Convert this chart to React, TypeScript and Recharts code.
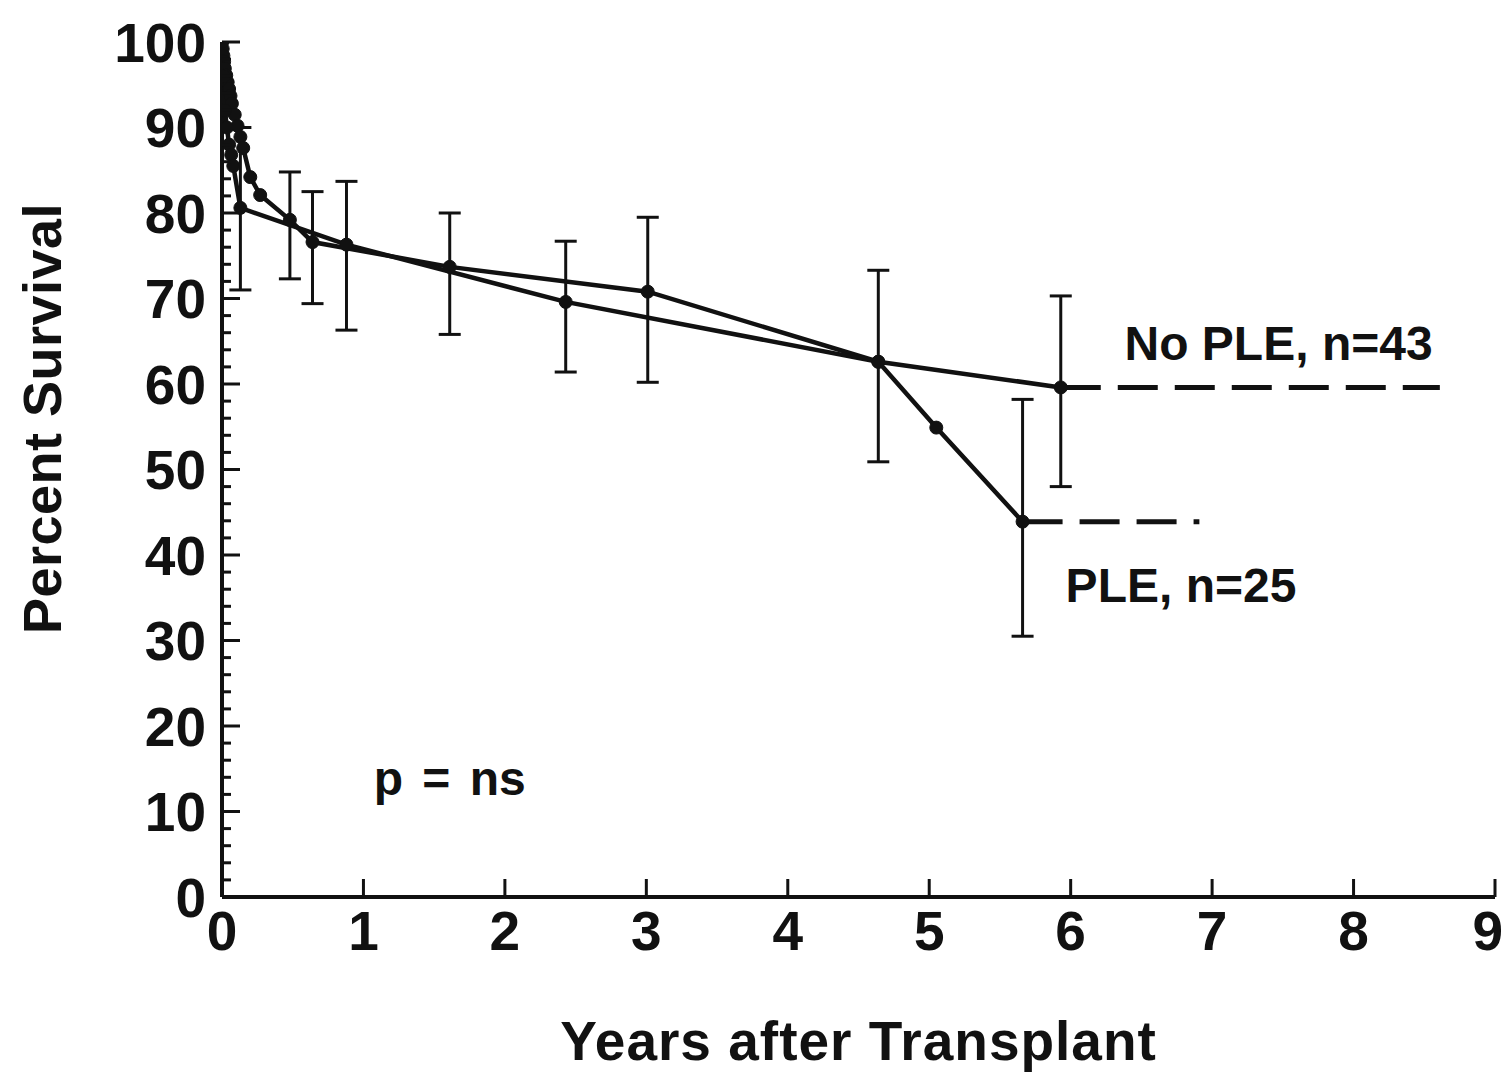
import React from 'react';
import { LineChart, Line, XAxis, YAxis, ErrorBar, ReferenceDot } from 'recharts';

// ---- Data ----
const noPleYears = [0, 0.005, 0.01, 0.015, 0.02, 0.03, 0.04, 0.05, 0.06, 0.07, 0.09, 0.11, 0.13, 0.15, 0.2, 0.27, 0.48, 0.64, 1.61, 3.01, 4.64, 5.93];
const noPleSurvival = [100, 99.2, 98.4, 97.7, 96.9, 96.1, 95.3, 94.5, 93.7, 92.8, 91.5, 90.2, 88.9, 87.6, 84.2, 82.1, 79.2, 76.6, 73.7, 70.8, 62.6, 59.6];
const noPleLower = [null, null, null, null, null, null, null, null, null, null, null, null, null, null, null, null, 72.3, 69.4, 65.8, 60.2, 50.9, 48.0];
const noPleUpper = [null, null, null, null, null, null, null, null, null, null, null, null, null, null, null, null, 84.8, 82.5, 80.0, 79.5, 73.3, 70.3];

const pleYears = [0, 0.01, 0.02, 0.035, 0.05, 0.065, 0.08, 0.13, 0.88, 2.43, 4.64, 5.05, 5.66];
const pleSurvival = [100, 96, 92, 90, 88, 86.8, 85.5, 80.6, 76.3, 69.6, 62.6, 54.9, 43.9];
const pleLower = [null, null, null, null, null, null, null, 71.0, 66.3, 61.4, null, null, 30.5];
const pleUpper = [null, null, null, null, null, null, null, 90.0, 83.7, 76.7, null, null, 58.2];

const noPleTailYears = [5.93, 8.61];
const noPleTailSurvival = [59.6, 59.6];
const pleTailYears = [5.66, 6.91];
const pleTailSurvival = [43.9, 43.9];

const xTicks = [0, 1, 2, 3, 4, 5, 6, 7, 8, 9];
const yTicks = Array.from({ length: 51 }, (_, i) => i * 2);

const seriesLabels = ['No PLE, n=43', 'PLE, n=25'];
const pValueText = 'p = ns';
const xTitle = 'Years after Transplant';
const yTitle = 'Percent Survival';

// ---- Build tables ----
const build = (xs: number[], ys: number[], lo?: (number | null)[], hi?: (number | null)[]) =>
  xs.map((t, i) => {
    const row: any = { t, s: ys[i] };
    if (lo && hi && lo[i] != null && hi[i] != null) {
      row.err = [ys[i] - (lo[i] as number), (hi[i] as number) - ys[i]];
    }
    return row;
  });

const noPleData = build(noPleYears, noPleSurvival, noPleLower, noPleUpper);
const pleData = build(pleYears, pleSurvival, pleLower, pleUpper);
const noPleTail = build(noPleTailYears, noPleTailSurvival);
const pleTail = build(pleTailYears, pleTailSurvival);

const FONT = '"Liberation Sans", Arial, Helvetica, sans-serif';
const INK = '#111';
const Y_TM = 16;
const X_TM = 13;

const YTick = (props: any) => {
  const { x, y, payload } = props;
  const ax = x + Y_TM;
  const major = payload.value % 10 === 0;
  return (
    <g>
      <line x1={ax} x2={ax + (major ? 18 : 9)} y1={y} y2={y} stroke={INK} strokeWidth={3} />
      {major && (
        <text x={x} y={y} dy="0.36em" textAnchor="end" fontFamily={FONT} fontWeight="bold" fontSize={55} fill={INK}>
          {payload.value}
        </text>
      )}
    </g>
  );
};

const XTick = (props: any) => {
  const { x, y, payload } = props;
  const ay = y - X_TM;
  const last = payload.value === xTicks[xTicks.length - 1];
  return (
    <g>
      {payload.value !== 0 && <line x1={x} x2={x} y1={ay} y2={ay - 18} stroke={INK} strokeWidth={3} />}
      <text x={last ? x + 8 : x} y={y} dy="0.72em" textAnchor={last ? 'end' : 'middle'} fontFamily={FONT} fontWeight="bold" fontSize={55} fill={INK}>
        {payload.value}
      </text>
    </g>
  );
};

const YTitle = (props: any) => {
  const vb = props.viewBox || { x: 114, y: 34, width: 100, height: 855 };
  const cx = vb.x - 80;
  const cy = vb.y + vb.height / 2 - 51;
  return (
    <text x={cx} y={cy} transform={`rotate(-90, ${cx}, ${cy})`} textAnchor="middle" dominantBaseline="central"
      fontFamily={FONT} fontWeight="bold" fontSize={54} letterSpacing={0.5} fill={INK}>
      {yTitle}
    </text>
  );
};

const XTitle = (props: any) => {
  const vb = props.viewBox || { x: 214, y: 889, width: 1273, height: 80 };
  const cx = vb.x + vb.width / 2;
  const cy = 1033;
  return (
    <text x={cx} y={cy} textAnchor="middle" dominantBaseline="central"
      fontFamily={FONT} fontWeight="bold" fontSize={55} letterSpacing={1} fill={INK}>
      {xTitle}
    </text>
  );
};

const annot = (value: string, extra: any = {}) => ({
  value,
  position: 'center' as const,
  fontFamily: FONT,
  fontWeight: 'bold',
  fontSize: 48,
  fill: INK,
  ...extra,
});

export default function App() {
  return (
    <div style={{ width: 1496, height: 1065, background: '#fff' }}>
      <LineChart width={1496} height={1065} margin={{ top: 34, right: 9, left: 114, bottom: 96 }}>
        <XAxis
          dataKey="t"
          type="number"
          domain={[0, 9]}
          ticks={xTicks}
          interval={0}
          allowDataOverflow
          tickLine={false}
          tickSize={0}
          tickMargin={X_TM}
          height={80}
          axisLine={{ stroke: INK, strokeWidth: 4 }}
          tick={<XTick />}
          label={<XTitle />}
        />
        <YAxis
          type="number"
          domain={[0, 100]}
          ticks={yTicks}
          interval={0}
          allowDataOverflow
          tickLine={false}
          tickSize={0}
          tickMargin={Y_TM}
          width={100}
          axisLine={{ stroke: INK, strokeWidth: 4 }}
          tick={<YTick />}
          label={<YTitle />}
        />
        <Line data={noPleTail} dataKey="s" type="linear" stroke={INK} strokeWidth={5} strokeDasharray="40 17" dot={false} isAnimationActive={false} />
        <Line data={pleTail} dataKey="s" type="linear" stroke={INK} strokeWidth={5} strokeDasharray="40 17" dot={false} isAnimationActive={false} />
        <Line data={noPleData} dataKey="s" type="linear" stroke={INK} strokeWidth={4.5}
          dot={{ r: 6.5, fill: INK, stroke: INK, strokeWidth: 1 }} isAnimationActive={false}>
          <ErrorBar dataKey="err" direction="y" width={11} stroke={INK} strokeWidth={3} />
        </Line>
        <Line data={pleData} dataKey="s" type="linear" stroke={INK} strokeWidth={4.5}
          dot={{ r: 6.5, fill: INK, stroke: INK, strokeWidth: 1 }} isAnimationActive={false}>
          <ErrorBar dataKey="err" direction="y" width={11} stroke={INK} strokeWidth={3} />
        </Line>
        <ReferenceDot x={7.47} y={64.8} r={0} fill="none" stroke="none" label={annot(seriesLabels[0])} />
        <ReferenceDot x={6.78} y={36.5} r={0} fill="none" stroke="none" label={annot(seriesLabels[1])} />
        <ReferenceDot x={1.61} y={13.9} r={0} fill="none" stroke="none" label={annot(pValueText, { wordSpacing: 6 })} />
      </LineChart>
    </div>
  );
}
